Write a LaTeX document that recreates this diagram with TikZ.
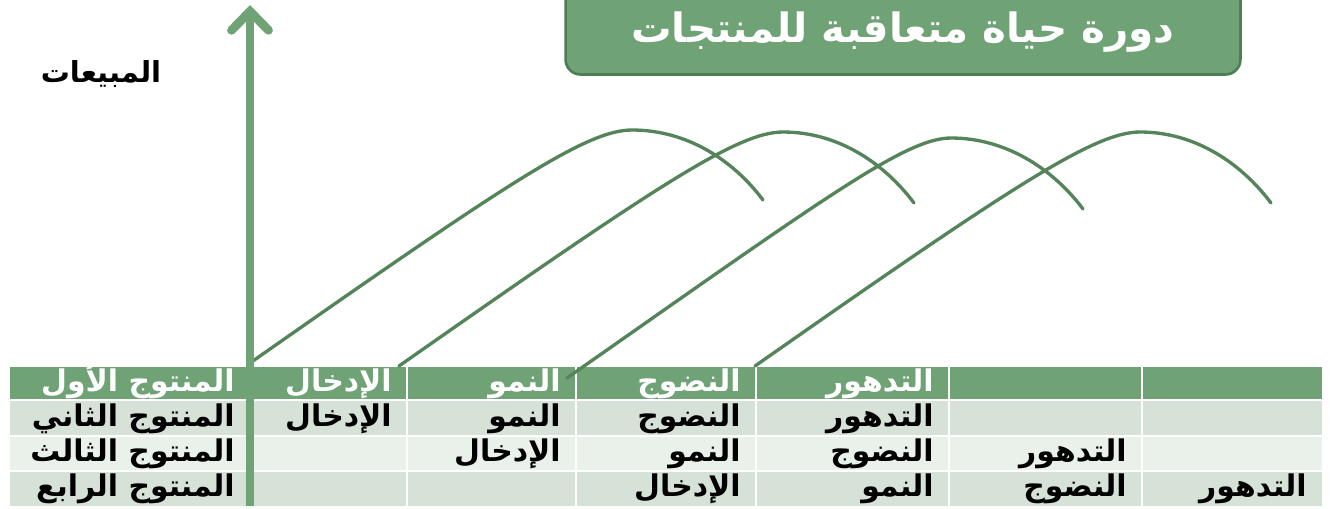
\documentclass[tikz,border=0pt]{standalone}
\usepackage{fontspec}
\usetikzlibrary{arrows.meta, positioning}
\newfontfamily\arabicfont[Script=Arabic]{DejaVu Sans}
\TeXXeTstate=1
\newcommand{\rtl}[1]{\beginR #1\endR}
\definecolor{plcgreen}{HTML}{6FA275}
\definecolor{plccurve}{HTML}{55835A}
\definecolor{plcborder}{HTML}{4F7D55}
\definecolor{plcdark}{HTML}{D6E1D7}
\definecolor{plclight}{HTML}{EAF0EA}

\begin{document}
\begin{tikzpicture}[x=0.02cm, y=-0.02cm,
  celltxt/.style={font=\arabicfont\bfseries\fontsize{17}{19}\selectfont, anchor=base east, inner sep=0pt},
  headtxt/.style={celltxt, text=white},
  lifecurve/.style={draw=plccurve, line width=1.9pt, line cap=round},
  titlebox/.style={draw=plcborder, line width=1.5pt, fill=plcgreen, rounded corners=0.3cm,
    minimum width=13.5cm, minimum height=1.9cm}]
\useasboundingbox (0,0) rectangle (1332,508);

\fill[plcgreen] (10,367) rectangle (1322,400);
\fill[plcdark] (10,400) rectangle (1322,436);
\fill[plclight] (10,436) rectangle (1322,471);
\fill[plcdark] (10,471) rectangle (1322,506);
\foreach \x in {250,407,576,756,949,1142}
  \draw[white, line width=1.2pt] (\x,367) -- (\x,506);
\foreach \y in {400,436,471}
  \draw[white, line width=1.2pt] (10,\y) -- (1322,\y);

\foreach \x [count=\c] in {235,392,561,741,934,1127,1307}
  \coordinate (c\c) at (\x,0);
\foreach \y [count=\r] in {391,426,461,496}
  \coordinate (r\r) at (0,\y);

\foreach \c/\w in {1/المنتوج الأول, 2/الإدخال, 3/النمو, 4/النضوج, 5/التدهور}
  \node[headtxt] (row1-\c) at (c\c |- r1) {\rtl{\w}};
\foreach \c/\w in {1/المنتوج الثاني, 2/الإدخال, 3/النمو, 4/النضوج, 5/التدهور}
  \node[celltxt] (row2-\c) at (c\c |- r2) {\rtl{\w}};
\foreach \c/\w in {1/المنتوج الثالث, 3/الإدخال, 4/النمو, 5/النضوج, 6/التدهور}
  \node[celltxt] (row3-\c) at (c\c |- r3) {\rtl{\w}};
\foreach \c/\w in {1/المنتوج الرابع, 4/الإدخال, 5/النمو, 6/النضوج, 7/التدهور}
  \node[celltxt] (row4-\c) at (c\c |- r4) {\rtl{\w}};

\coordinate (start1) at (250,363);
\coordinate (peak1) at (632,130);
\coordinate (end1) at (763,200);
\coordinate (start2) at (399,366);
\coordinate (peak2) at (783,132);
\coordinate (end2) at (914,203);
\coordinate (start3) at (567,378);
\coordinate (peak3) at (951,138);
\coordinate (end3) at (1083,209);
\coordinate (start4) at (755,366);
\coordinate (peak4) at (1140,132);
\coordinate (end4) at (1271,203);
\foreach \i in {1,2,3,4}
  \draw[lifecurve] (start\i) .. controls +(260,-182) and +(-45,0) .. (peak\i)
    .. controls +(55,0) and +(-30,-40) .. (end\i);

\coordinate (ybase) at (250,506);
\coordinate (ytop) at (250,5);
\draw[plcgreen, line width=5pt, -{Straight Barb[length=0.38cm, width=0.74cm, line cap=round]}] (ybase) -- (ytop);

\node[font=\arabicfont\bfseries\fontsize{16.5}{18}\selectfont] (sales) at (101,74) {\rtl{المبيعات}};
\node[titlebox] (title) at (903,27) {};
\node[text=white, font=\arabicfont\bfseries\fontsize{23}{26}\selectfont] (titletext) at (903,32) {\rtl{دورة حياة متعاقبة للمنتجات}};
\end{tikzpicture}
\end{document}
